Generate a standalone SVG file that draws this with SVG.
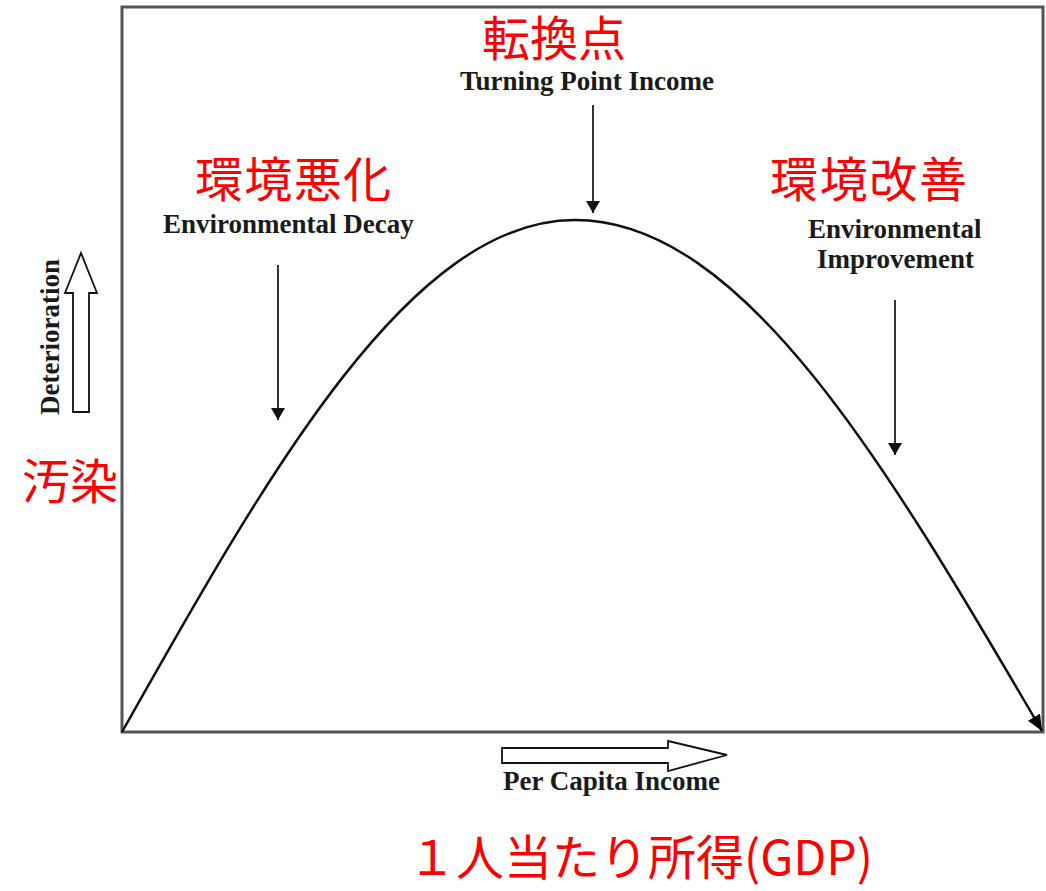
<svg xmlns="http://www.w3.org/2000/svg" width="1046" height="891" viewBox="0 0 1046 891">
<defs>
<style>
.jp{font-family:"Noto Sans CJK JP","Noto Sans",sans-serif;fill:#ff0000;font-size:48px}
.en{font-family:"Liberation Serif","Times New Roman",serif;font-weight:bold;fill:#1a1a1a;font-size:27px}
.ptr{stroke:#333;stroke-width:2;fill:none}
.hollow{fill:#fff;stroke:#111;stroke-width:1.8;stroke-linejoin:miter}
</style>
<marker id="ah" viewBox="0 0 12 14" refX="12" refY="7" markerWidth="12" markerHeight="14" markerUnits="userSpaceOnUse" orient="auto">
<path d="M0,0 L12,7 L0,14 Z" fill="#111"/>
</marker>
<marker id="ahc" viewBox="0 0 16 14" refX="16" refY="7" markerWidth="16" markerHeight="14" markerUnits="userSpaceOnUse" orient="auto">
<path d="M0,0 L16,7 L0,14 Z" fill="#000"/>
</marker>
</defs>
<rect width="1046" height="891" fill="#fff"/>
<g id="frame">
<rect x="122" y="7" width="921" height="725" fill="none" stroke="#555" stroke-width="3"/>
</g>
<g id="connectors">
<path id="curve" d="M122,732 C269.7,469.7 411.1,220 575,220 C743.3,220 888.4,468.2 1042,731" fill="none" stroke="#111" stroke-width="2.5" marker-end="url(#ahc)"/>
<line class="ptr" x1="593" y1="105" x2="593" y2="213" marker-end="url(#ah)"/>
<line class="ptr" x1="278" y1="265" x2="278" y2="420" marker-end="url(#ah)"/>
<line class="ptr" x1="895" y1="300" x2="895" y2="455" marker-end="url(#ah)"/>
</g>
<g id="turning-point">
<text class="jp" x="482" y="56">転換点</text>
<text class="en" x="460" y="90">Turning Point Income</text>
</g>
<g id="decay">
<text class="jp" x="195" y="197" textLength="196">環境悪化</text>
<text class="en" x="163" y="233">Environmental Decay</text>
</g>
<g id="improvement">
<text class="jp" x="770" y="197" textLength="197">環境改善</text>
<text class="en" x="808" y="238">Environmental</text>
<text class="en" x="817" y="268">Improvement</text>
</g>
<g id="y-axis">
<path class="hollow" d="M73,412 L73,293 L65,293 L81,253 L97,293 L89,293 L89,412 Z"/>
<text class="en" transform="translate(59,415) rotate(-90)">Deterioration</text>
<text class="jp" x="22" y="499">汚染</text>
</g>
<g id="x-axis">
<path class="hollow" d="M502,748 L668,748 L668,741 L727,755 L668,771 L668,763 L502,763 Z"/>
<text class="en" x="503" y="790">Per Capita Income</text>
<text class="jp" x="408" y="875">１人当たり所得(GDP)</text>
</g>
</svg>
